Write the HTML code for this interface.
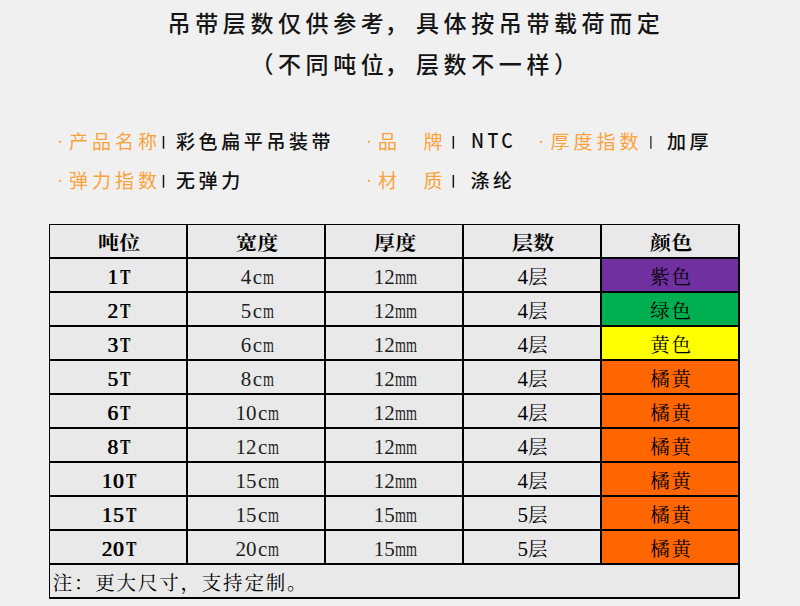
<!DOCTYPE html>
<html lang="zh-CN">
<head>
<meta charset="utf-8">
<title>吊带规格表</title>
<style>
html,body{margin:0;padding:0;}
body{width:800px;height:606px;background:#f0f0f0;position:relative;overflow:hidden;
  font-family:"Liberation Sans","Noto Sans CJK SC",sans-serif;color:#111;}
.abs{position:absolute;white-space:nowrap;}
/* ---------- title ---------- */
.title{left:0;width:800px;text-align:center;font-size:23px;font-weight:500;letter-spacing:4.6px;
  line-height:40px;height:40px;color:#151515;}
.cm{position:relative;left:-3.7px;}
#t1{top:4px;left:16px;}
#t2{top:45px;left:16px;}
/* ---------- info rows ---------- */
.info{font-size:19px;letter-spacing:3.6px;line-height:30px;height:30px;}
.lab{color:#fba23c;font-weight:400;letter-spacing:4px;}
.val{color:#111;font-weight:500;}
.ntc{font-family:"Noto Sans CJK SC","Liberation Sans",sans-serif;font-size:19.7px;letter-spacing:3.9px;transform:scaleX(.9);transform-origin:0 50%;}
.dot{color:#fba23c;font-weight:400;font-size:11px;line-height:20px;height:20px;width:20px;text-align:center;font-family:"Noto Sans CJK SC","Liberation Sans",sans-serif;}
#pipes{left:0;top:0;width:800px;height:220px;pointer-events:none;}
/* ---------- table ---------- */
#tb{left:49px;top:224px;width:691px;height:375px;background:#e9e9e9;}
.ln{position:absolute;background:#000;}
.cell{position:absolute;height:34px;line-height:34px;text-align:center;white-space:nowrap;
  font-family:"Liberation Serif","Noto Serif CJK SC",serif;font-size:21px;color:#000;padding-top:1px;box-sizing:border-box;}
.hd{font-weight:700;font-size:19.5px;letter-spacing:.3px;text-indent:.3px;padding-top:2px;padding-left:1px;transform:scaleX(1.075);}
.k{font-size:19.5px;letter-spacing:1.8px;font-weight:400;}
.kc{padding-left:2px;}
.b{font-weight:400;letter-spacing:.9px;text-shadow:.8px 0 0 #000;}
.m{display:inline-block;width:10.9px;}
.m>i{display:inline-block;font-style:normal;transform:scaleX(.67);transform-origin:0 50%;}
.c{display:inline-block;width:10.7px;text-align:center;margin-left:.8px;}
.lc{padding-left:1.3px;color:#1e1e1e;}
.T{display:inline-block;width:11.3px;}
.T>i{display:inline-block;font-style:normal;transform:scaleX(.74);transform-origin:0 50%;margin-left:1.7px;text-shadow:1.2px 0 0 #000;}
.fill{position:absolute;}
.note{position:absolute;left:3.7px;top:342.5px;height:34px;line-height:34px;font-size:19.5px;letter-spacing:1.8px;font-weight:400;
  font-family:"Liberation Serif","Noto Serif CJK SC",serif;color:#000;white-space:nowrap;}
</style>
</head>
<body>

<div class="abs title" id="t1">吊带层数仅供参考<span class="cm">，</span>具体按吊带载荷而定</div>
<div class="abs title" id="t2">（不同吨位<span class="cm">，</span>层数不一样）</div>

<!-- info row 1 -->
<div class="abs dot" style="left:50px;top:131.25px;">·</div>
<div class="abs info lab" style="left:69px;top:128px;">产品名称</div>
<div class="abs info val" style="left:176px;top:128px;">彩色扁平吊装带</div>

<div class="abs dot" style="left:359px;top:131.25px;">·</div>
<div class="abs info lab" style="left:378px;top:128px;letter-spacing:3.7px;">品　牌</div>
<div class="abs info val ntc" style="left:470.5px;top:124.8px;">NTC</div>

<div class="abs dot" style="left:531.3px;top:131.25px;">·</div>
<div class="abs info lab" style="left:550.4px;top:128px;">厚度指数</div>
<div class="abs info val" style="left:667px;top:128px;">加厚</div>

<!-- info row 2 -->
<div class="abs dot" style="left:50px;top:170.3px;">·</div>
<div class="abs info lab" style="left:69px;top:167px;">弹力指数</div>
<div class="abs info val" style="left:176px;top:167px;">无弹力</div>

<div class="abs dot" style="left:359px;top:170.3px;">·</div>
<div class="abs info lab" style="left:378px;top:167px;letter-spacing:3.7px;">材　质</div>
<div class="abs info val" style="left:470.5px;top:167px;">涤纶</div>

<svg class="abs" id="pipes" width="800" height="220" viewBox="0 0 800 220">
  <g fill="#151515">
    <rect x="162.75" y="136" width="1.5" height="12.75"/>
    <rect x="452.6" y="136" width="1.5" height="12.75"/>
    <rect x="650.1" y="136" width="1.5" height="12.75" fill="#444"/>
    <rect x="162.75" y="175" width="1.5" height="12.75"/>
    <rect x="452.6" y="175" width="1.5" height="12.75"/>
  </g>
</svg>

<!-- table -->
<div class="abs" id="tb">
  <!-- colour fills (col 5: x 553..689) -->
  <div class="fill" style="left:553px;top:35px;width:137px;height:33px;background:#7030a0;"></div>
  <div class="fill" style="left:553px;top:69px;width:137px;height:33px;background:#00b050;"></div>
  <div class="fill" style="left:553px;top:103px;width:137px;height:33px;background:#ffff00;"></div>
  <div class="fill" style="left:553px;top:137px;width:137px;height:203px;background:#ff6600;"></div>

  <!-- header -->
  <div class="cell hd" style="left:1px;top:1px;width:137px;">吨位</div>
  <div class="cell hd" style="left:139px;top:1px;width:137px;">宽度</div>
  <div class="cell hd" style="left:277px;top:1px;width:137px;">厚度</div>
  <div class="cell hd" style="left:415px;top:1px;width:137px;">层数</div>
  <div class="cell hd" style="left:553px;top:1px;width:137px;">颜色</div>

  <!-- row 1 -->
  <div class="cell b" style="left:1px;top:35px;width:137px;">1<span class="T"><i>T</i></span></div>
  <div class="cell lc" style="left:139px;top:35px;width:137px;">4<span class="c">c</span><span class="m"><i>m</i></span></div>
  <div class="cell lc" style="left:277px;top:35px;width:137px;">12<span class="m"><i>m</i></span><span class="m"><i>m</i></span></div>
  <div class="cell kc" style="left:415px;top:35px;width:137px;">4<span class="k">层</span></div>
  <div class="cell kc" style="left:553px;top:35px;width:137px;"><span class="k">紫色</span></div>
  <!-- row 2 -->
  <div class="cell b" style="left:1px;top:69px;width:137px;">2<span class="T"><i>T</i></span></div>
  <div class="cell lc" style="left:139px;top:69px;width:137px;">5<span class="c">c</span><span class="m"><i>m</i></span></div>
  <div class="cell lc" style="left:277px;top:69px;width:137px;">12<span class="m"><i>m</i></span><span class="m"><i>m</i></span></div>
  <div class="cell kc" style="left:415px;top:69px;width:137px;">4<span class="k">层</span></div>
  <div class="cell kc" style="left:553px;top:69px;width:137px;"><span class="k">绿色</span></div>
  <!-- row 3 -->
  <div class="cell b" style="left:1px;top:103px;width:137px;">3<span class="T"><i>T</i></span></div>
  <div class="cell lc" style="left:139px;top:103px;width:137px;">6<span class="c">c</span><span class="m"><i>m</i></span></div>
  <div class="cell lc" style="left:277px;top:103px;width:137px;">12<span class="m"><i>m</i></span><span class="m"><i>m</i></span></div>
  <div class="cell kc" style="left:415px;top:103px;width:137px;">4<span class="k">层</span></div>
  <div class="cell kc" style="left:553px;top:103px;width:137px;"><span class="k">黄色</span></div>
  <!-- row 4 -->
  <div class="cell b" style="left:1px;top:137px;width:137px;">5<span class="T"><i>T</i></span></div>
  <div class="cell lc" style="left:139px;top:137px;width:137px;">8<span class="c">c</span><span class="m"><i>m</i></span></div>
  <div class="cell lc" style="left:277px;top:137px;width:137px;">12<span class="m"><i>m</i></span><span class="m"><i>m</i></span></div>
  <div class="cell kc" style="left:415px;top:137px;width:137px;">4<span class="k">层</span></div>
  <div class="cell kc" style="left:553px;top:137px;width:137px;"><span class="k">橘黄</span></div>
  <!-- row 5 -->
  <div class="cell b" style="left:1px;top:171px;width:137px;">6<span class="T"><i>T</i></span></div>
  <div class="cell lc" style="left:139px;top:171px;width:137px;">10<span class="c">c</span><span class="m"><i>m</i></span></div>
  <div class="cell lc" style="left:277px;top:171px;width:137px;">12<span class="m"><i>m</i></span><span class="m"><i>m</i></span></div>
  <div class="cell kc" style="left:415px;top:171px;width:137px;">4<span class="k">层</span></div>
  <div class="cell kc" style="left:553px;top:171px;width:137px;"><span class="k">橘黄</span></div>
  <!-- row 6 -->
  <div class="cell b" style="left:1px;top:205px;width:137px;">8<span class="T"><i>T</i></span></div>
  <div class="cell lc" style="left:139px;top:205px;width:137px;">12<span class="c">c</span><span class="m"><i>m</i></span></div>
  <div class="cell lc" style="left:277px;top:205px;width:137px;">12<span class="m"><i>m</i></span><span class="m"><i>m</i></span></div>
  <div class="cell kc" style="left:415px;top:205px;width:137px;">4<span class="k">层</span></div>
  <div class="cell kc" style="left:553px;top:205px;width:137px;"><span class="k">橘黄</span></div>
  <!-- row 7 -->
  <div class="cell b" style="left:1px;top:239px;width:137px;">10<span class="T"><i>T</i></span></div>
  <div class="cell lc" style="left:139px;top:239px;width:137px;">15<span class="c">c</span><span class="m"><i>m</i></span></div>
  <div class="cell lc" style="left:277px;top:239px;width:137px;">12<span class="m"><i>m</i></span><span class="m"><i>m</i></span></div>
  <div class="cell kc" style="left:415px;top:239px;width:137px;">4<span class="k">层</span></div>
  <div class="cell kc" style="left:553px;top:239px;width:137px;"><span class="k">橘黄</span></div>
  <!-- row 8 -->
  <div class="cell b" style="left:1px;top:273px;width:137px;">15<span class="T"><i>T</i></span></div>
  <div class="cell lc" style="left:139px;top:273px;width:137px;">15<span class="c">c</span><span class="m"><i>m</i></span></div>
  <div class="cell lc" style="left:277px;top:273px;width:137px;">15<span class="m"><i>m</i></span><span class="m"><i>m</i></span></div>
  <div class="cell kc" style="left:415px;top:273px;width:137px;">5<span class="k">层</span></div>
  <div class="cell kc" style="left:553px;top:273px;width:137px;"><span class="k">橘黄</span></div>
  <!-- row 9 -->
  <div class="cell b" style="left:1px;top:307px;width:137px;">20<span class="T"><i>T</i></span></div>
  <div class="cell lc" style="left:139px;top:307px;width:137px;">20<span class="c">c</span><span class="m"><i>m</i></span></div>
  <div class="cell lc" style="left:277px;top:307px;width:137px;">15<span class="m"><i>m</i></span><span class="m"><i>m</i></span></div>
  <div class="cell kc" style="left:415px;top:307px;width:137px;">5<span class="k">层</span></div>
  <div class="cell kc" style="left:553px;top:307px;width:137px;"><span class="k">橘黄</span></div>

  <div class="note">注：更大尺寸，支持定制。</div>

  <!-- horizontal lines -->
  <div class="ln" style="left:0;top:0;width:691px;height:1px;"></div>
  <div class="ln" style="left:0;top:33px;width:691px;height:2px;"></div>
  <div class="ln" style="left:0;top:67px;width:691px;height:2px;"></div>
  <div class="ln" style="left:0;top:101px;width:691px;height:2px;"></div>
  <div class="ln" style="left:0;top:135px;width:691px;height:2px;"></div>
  <div class="ln" style="left:0;top:169px;width:691px;height:2px;"></div>
  <div class="ln" style="left:0;top:203px;width:691px;height:2px;"></div>
  <div class="ln" style="left:0;top:237px;width:691px;height:2px;"></div>
  <div class="ln" style="left:0;top:271px;width:691px;height:2px;"></div>
  <div class="ln" style="left:0;top:305px;width:691px;height:2px;"></div>
  <div class="ln" style="left:0;top:339px;width:691px;height:2px;"></div>
  <div class="ln" style="left:0;top:373px;width:691px;height:2px;"></div>
  <!-- vertical lines -->
  <div class="ln" style="left:0;top:0;width:1px;height:375px;"></div>
  <div class="ln" style="left:137px;top:0;width:2px;height:340px;"></div>
  <div class="ln" style="left:275px;top:0;width:2px;height:340px;"></div>
  <div class="ln" style="left:413px;top:0;width:2px;height:340px;"></div>
  <div class="ln" style="left:551px;top:0;width:2px;height:340px;"></div>
  <div class="ln" style="left:689px;top:0;width:2px;height:375px;"></div>
</div>

</body>
</html>
